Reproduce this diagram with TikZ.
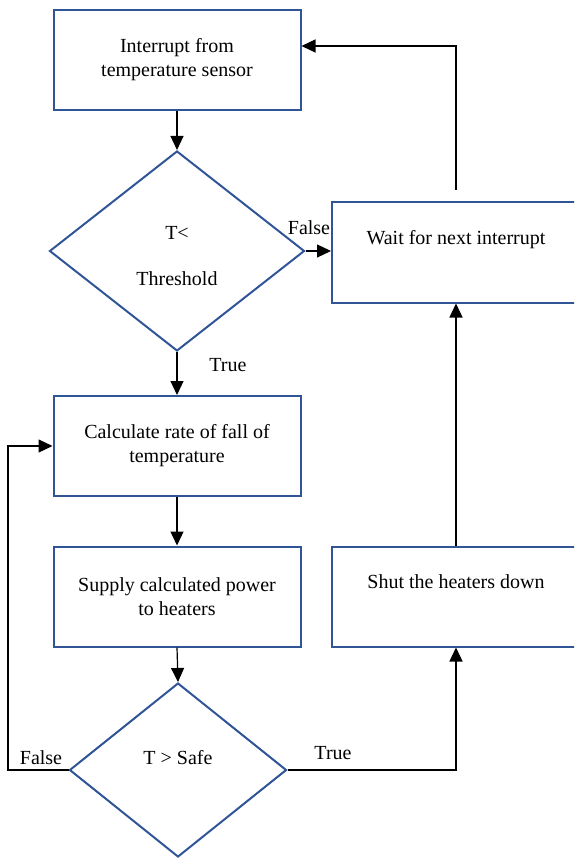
\documentclass[tikz,border=0pt]{standalone}
\usepackage{fontspec}
\setmainfont{Liberation Serif}
\usetikzlibrary{shapes.geometric,arrows.meta}
\definecolor{boxblue}{RGB}{47,85,151}
\begin{document}
\begin{tikzpicture}[x=1pt,y=-1pt,
  box/.style={draw=boxblue,line width=2pt,minimum width=247pt,minimum height=100pt,inner sep=0pt,align=center,font=\fontsize{20}{24}\selectfont},
  upper/.style={text depth=30pt},
  dec/.style={draw=boxblue,line width=2pt,shape=diamond,inner sep=0pt},
  txt/.style={font=\fontsize{20}{24}\selectfont,inner sep=0pt,align=center},
  conn/.style={draw=black,line width=1.2pt,-{Triangle[length=14pt,width=13pt]}}]
\useasboundingbox (0,0) rectangle (574,858);
\clip (0,0) rectangle (574,858);
% boxes
\node[box] (top) at (177,60) {Interrupt from\\temperature sensor};
\node[dec,minimum width=255pt,minimum height=200pt] (d1) at (177,251) {};
\node[txt] (d1t) at (177,256) {T<\\[22pt]Threshold};
\node[box,upper,minimum width=248pt] (wait) at (456,252.5) {Wait for next interrupt};
\node[box] (calc) at (177,446) {Calculate rate of fall of\\temperature};
\node[box] (supply) at (177,596.5) {Supply calculated power\\to heaters};
\node[box,upper,minimum width=248pt] (shut) at (456,596.5) {Shut the heaters down};
\node[dec,minimum width=217pt,minimum height=174pt] (d2) at (178,770) {};
\node[txt] (d2t) at (178,758) {T > Safe};
% labels
\node[txt] (lf1) at (309,228) {False};
\node[txt] (lt1) at (228,365) {True};
\node[txt] (lf2) at (41,758) {False};
\node[txt] (lt2) at (333,753) {True};
% helper coordinates
\coordinate (wtop) at (456,190);
\coordinate (lft) at (8,0);
% connectors
\draw[conn] (top) -- (d1);
\draw[conn] (d1.east) -- (d1.east -| wait.west);
\draw[conn] (wtop) |- ([yshift=14pt]top.east);
\draw[conn] (d1.south) -- (calc.north);
\draw[conn] (calc) -- (supply);
\draw[conn] (supply.south) -- (d2.north);
\draw[conn] (d2.west) -- (d2.west -| lft) |- (calc.west);
\draw[conn] (d2.east) -| (shut.south);
\draw[conn] (shut.north) -- (wait.south);
\end{tikzpicture}
\end{document}
